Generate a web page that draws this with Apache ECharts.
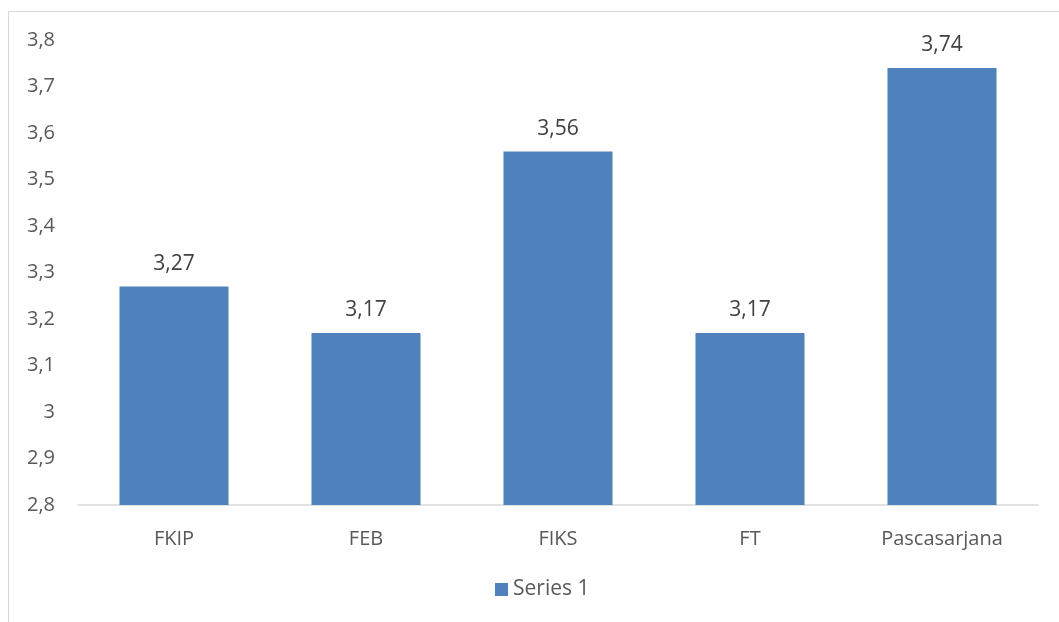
<!DOCTYPE html>
<html><head><meta charset="utf-8">
<script src="https://cdn.jsdelivr.net/npm/echarts@6/dist/echarts.min.js"></script>
<style>
html,body{margin:0;padding:0;background:#fff;overflow:hidden;}
#frame{position:absolute;left:8px;top:11px;width:1100px;height:700px;border:1px solid #d9d9d9;box-sizing:border-box;}
#c{position:absolute;left:0;top:0;width:1059px;height:622px;}
</style></head>
<body>
<div id="frame"></div>
<div id="c"></div>
<script>
const categories = ['FKIP', 'FEB', 'FIKS', 'FT', 'Pascasarjana'];
const values = [3.27, 3.17, 3.56, 3.17, 3.74];
const seriesName = 'Series 1';
const yMin = 2.8, yMax = 3.8, yStep = 0.1;

const fmt = v => String(parseFloat(Number(v).toFixed(2))).replace('.', ',');
const chart = echarts.init(document.getElementById('c'), null, {renderer: 'canvas'});
chart.setOption({
  animation: false,
  textStyle: {fontFamily: 'Open Sans'},
  grid: {left: 78, top: 40, width: 960, height: 465, containLabel: false},
  legend: {
    bottom: 17, left: 490, data: [seriesName],
    itemWidth: 13, itemHeight: 13, icon: 'rect', itemGap: 6,
    textStyle: {color: '#595959', fontSize: 21, fontFamily: 'Open Sans'}
  },
  xAxis: {
    type: 'category', data: categories,
    axisLine: {lineStyle: {color: '#d9d9d9', width: 1.5}},
    axisTick: {show: false},
    axisLabel: {color: '#595959', fontSize: 20, margin: 24, fontFamily: 'Open Sans'}
  },
  yAxis: {
    type: 'value', min: yMin, max: yMax, interval: yStep,
    axisLine: {show: false}, axisTick: {show: false},
    splitLine: {show: false},
    axisLabel: {color: '#595959', fontSize: 20, margin: 23, fontFamily: 'Open Sans', formatter: v => fmt(v)}
  },
  series: [{
    name: seriesName, type: 'bar', data: values, barWidth: 109,
    itemStyle: {color: '#4F81BD'},
    label: {show: true, position: 'top', distance: 12, color: '#404040', fontSize: 21, fontFamily: 'Open Sans', formatter: p => fmt(p.value)}
  }]
});
</script>
</body></html>
